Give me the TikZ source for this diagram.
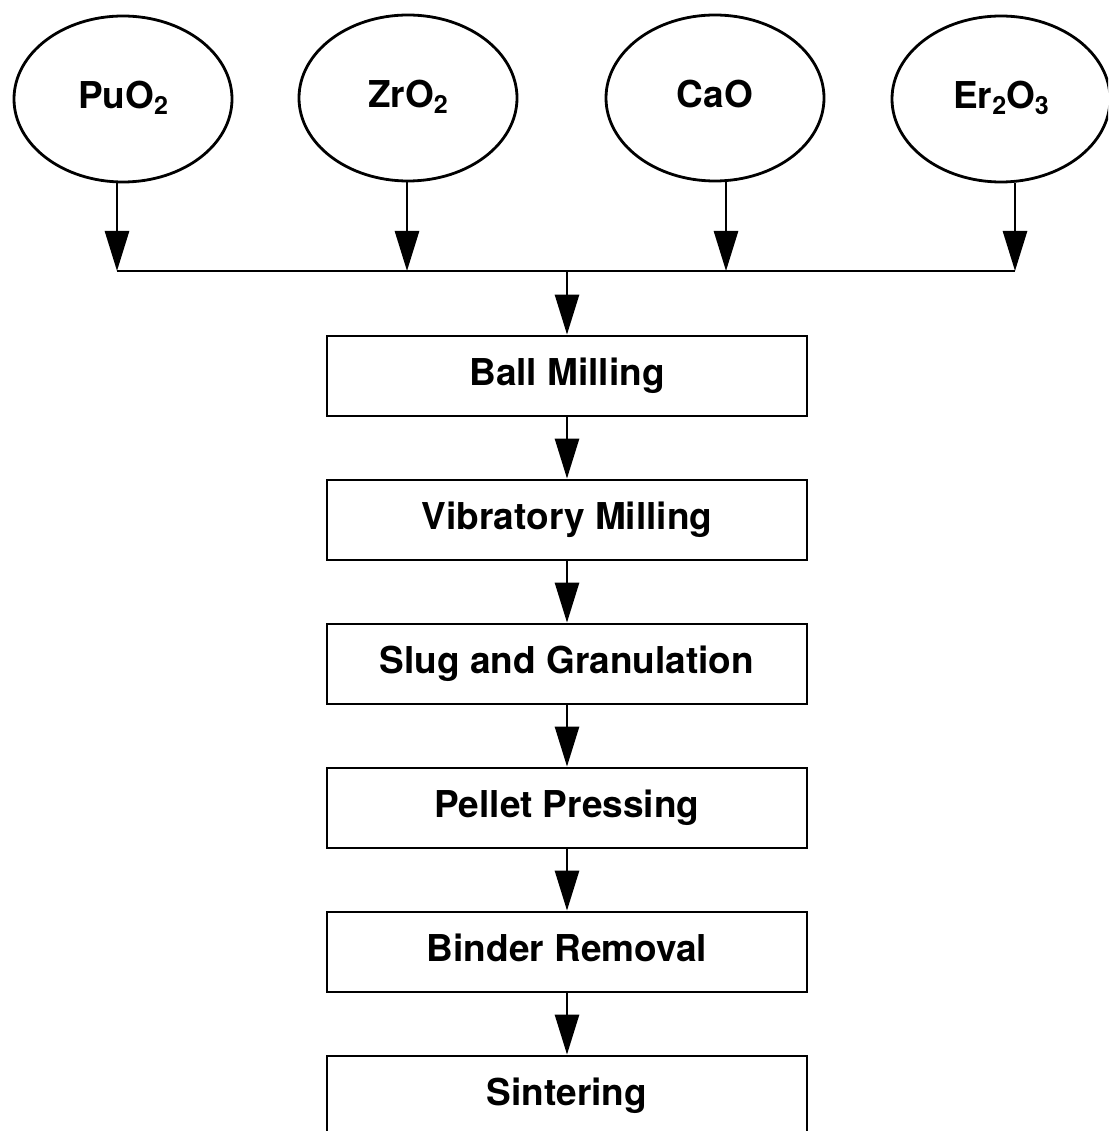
\documentclass[tikz,border=0pt]{standalone}
\usepackage{fontspec}
\setmainfont{TeX Gyre Heros}
\usetikzlibrary{shapes.geometric,arrows.meta}
\newcommand{\chsub}[1]{\raisebox{-6pt}{\fontsize{25}{25}\selectfont #1}}
\tikzset{
  lbl/.style={font=\fontsize{37}{42}\selectfont\bfseries, text height=27pt, text depth=8pt},
  oxide/.style={ellipse, draw, line width=2.8pt, minimum width=218pt, minimum height=166pt, inner sep=0pt, lbl},
  stepbox/.style={rectangle, draw, line width=2.8pt, minimum width=480pt, minimum height=80pt, inner sep=0pt, lbl},
  flow/.style={line width=2.8pt, -{Triangle[length=40pt,width=24pt]}},
  bus/.style={line width=2.8pt}
}
\begin{document}
\begin{tikzpicture}[x=1pt,y=-1pt]
\useasboundingbox (0,0) rectangle (1108,1131);
\clip (0,0) rectangle (1108,1131);
\node[oxide] (pu) at (123,99) {PuO\chsub{2}};
\node[oxide] (zr) at (408,98) {ZrO\chsub{2}};
\node[oxide] (ca) at (715,98) {CaO};
\node[oxide] (er) at (1001,99) {Er\chsub{2}O\chsub{3}};
\coordinate (b1) at (117,271);
\coordinate (b2) at (407,271);
\coordinate (b3) at (726,271);
\coordinate (b4) at (1015,271);
\coordinate (bc) at (567,271);
\node[stepbox] (ball) at (567,376) {Ball Milling};
\node[stepbox] (vib) at (567,520) {Vibratory Milling};
\node[stepbox] (slug) at (567,664) {Slug and Granulation};
\node[stepbox] (pel) at (567,808) {Pellet Pressing};
\node[stepbox] (bind) at (567,952) {Binder Removal};
\node[stepbox] (sint) at (567,1096) {Sintering};
\draw[flow] (pu.south -| b1) -- (b1);
\draw[flow] (zr.south -| b2) -- (b2);
\draw[flow] (ca.south -| b3) -- (b3);
\draw[flow] (er.south -| b4) -- (b4);
\draw[bus] (b1) -- (b4);
\draw[flow] (bc) -- (ball.north);
\draw[flow] (ball) -- (vib);
\draw[flow] (vib) -- (slug);
\draw[flow] (slug) -- (pel);
\draw[flow] (pel) -- (bind);
\draw[flow] (bind) -- (sint);
\end{tikzpicture}
\end{document}
